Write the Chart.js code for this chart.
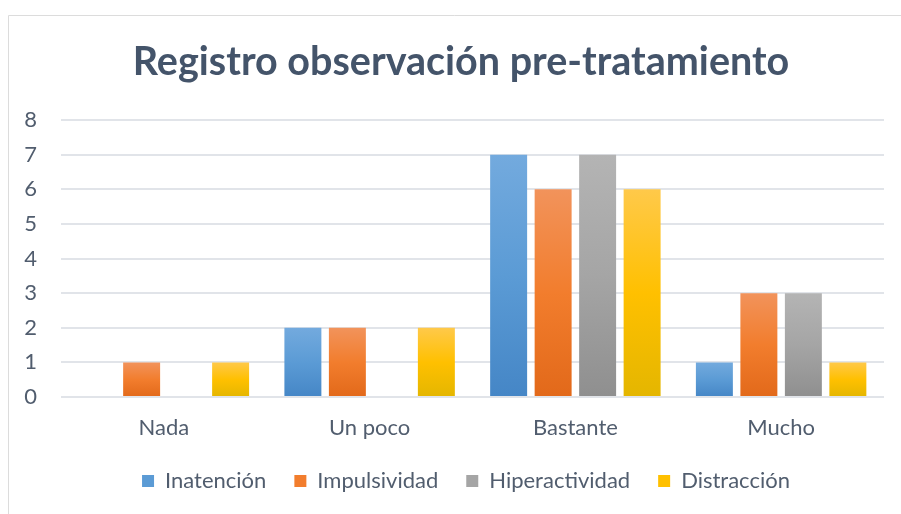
<!DOCTYPE html>
<html>
<head>
<meta charset="utf-8">
<script src="https://cdn.jsdelivr.net/npm/chart.js"></script>
<style>
html,body{margin:0;padding:0;background:#fff;}
#wrap{width:901px;height:514px;position:relative;}
</style>
</head>
<body>
<div id="wrap"><canvas id="c" width="901" height="514"></canvas></div>
<script>
const categories = ['Nada', 'Un poco', 'Bastante', 'Mucho'];
const seriesNames = ['Inatención', 'Impulsividad', 'Hiperactividad', 'Distracción'];
const inatencion = [0, 2, 7, 1];
const impulsividad = [1, 2, 6, 3];
const hiperactividad = [0, 0, 7, 3];
const distraccion = [1, 2, 6, 1];
const yTicks = [0, 1, 2, 3, 4, 5, 6, 7, 8];
const titleText = 'Registro observación pre-tratamiento';

const palettes = [
  ['#73aade', '#5b9bd5', '#4586c6'],
  ['#f2935b', '#f27d2d', '#e2691a'],
  ['#b4b4b4', '#a5a5a5', '#8f8f8f'],
  ['#ffc94a', '#ffc000', '#e4b600']
];
const textColor = '#515d6e';
const titleColor = '#44546a';

function gradFill(p) {
  return (ctx) => {
    const chart = ctx.chart;
    if (!chart.chartArea || ctx.type !== 'data') return p[1];
    const y = chart.scales.y;
    const yTop = y.getPixelForValue(ctx.raw);
    const yBot = y.getPixelForValue(0);
    if (!(yBot - yTop > 0.5)) return p[1];
    const g = chart.ctx.createLinearGradient(0, yTop, 0, yBot);
    g.addColorStop(0, p[0]);
    g.addColorStop(0.5, p[1]);
    g.addColorStop(1, p[2]);
    return g;
  };
}

const seriesValues = [inatencion, impulsividad, hiperactividad, distraccion];

const framePlugin = {
  id: 'frame',
  beforeDraw(chart) {
    const c = chart.ctx;
    c.save();
    c.fillStyle = '#ffffff';
    c.fillRect(0, 0, chart.width, chart.height);
    c.strokeStyle = '#dcdcdc';
    c.lineWidth = 1;
    c.beginPath();
    c.moveTo(8.5, chart.height);
    c.lineTo(8.5, 15.5);
    c.lineTo(chart.width, 15.5);
    c.stroke();
    c.restore();
  }
};

// shift title and legend horizontally to sit where the original places them
const shiftPlugin = {
  id: 'shift',
  afterLayout(chart) {
    if (chart.titleBlock) { chart.titleBlock.left += 19; chart.titleBlock.right += 19; }
    if (chart.legend) { chart.legend.left += 24; chart.legend.right += 24; }
  }
};

Chart.defaults.font.family = 'Lato, "Liberation Sans", sans-serif';
Chart.defaults.color = textColor;

new Chart(document.getElementById('c'), {
  type: 'bar',
  data: {
    labels: categories,
    datasets: seriesNames.map((name, i) => ({
      label: name,
      data: seriesValues[i],
      backgroundColor: gradFill(palettes[i]),
      borderWidth: 0,
      barPercentage: 0.831,
      categoryPercentage: 0.865
    }))
  },
  options: {
    responsive: false,
    animation: false,
    layout: { padding: { left: 0, right: 17, top: 0, bottom: 12 } },
    plugins: {
      title: {
        display: true,
        text: titleText,
        color: titleColor,
        font: { size: 39.5, weight: 'bold' },
        padding: { top: 38.8, bottom: 33.8 }
      },
      legend: {
        position: 'bottom',
        labels: {
          boxWidth: 12,
          boxHeight: 12,
          padding: 28,
          color: textColor,
          font: { size: 22 },
          generateLabels: (chart) => chart.data.datasets.map((ds, i) => ({
            text: ds.label,
            fillStyle: palettes[i][1],
            strokeStyle: palettes[i][1],
            lineWidth: 0,
            hidden: false,
            datasetIndex: i,
            fontColor: textColor
          }))
        }
      },
      tooltip: { enabled: false }
    },
    scales: {
      x: {
        grid: { display: false, drawTicks: false },
        border: { display: false },
        ticks: { padding: 17.8, font: { size: 22 }, color: textColor },
        afterFit: (s) => { s.height = 45; }
      },
      y: {
        min: yTicks[0],
        max: yTicks[yTicks.length - 1],
        grid: { color: '#e1e4e9', lineWidth: 2, drawTicks: false },
        border: { display: false },
        ticks: { stepSize: 1, padding: 24, font: { size: 22 }, color: textColor },
        afterFit: (s) => { s.width = 61; }
      }
    }
  },
  plugins: [framePlugin, shiftPlugin]
});
</script>
</body>
</html>
